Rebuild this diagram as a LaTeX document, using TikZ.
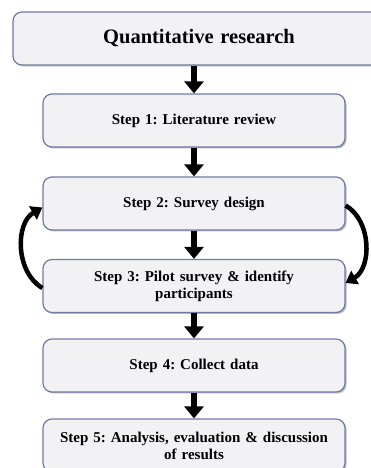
\documentclass[tikz,border=0pt]{standalone}
\usepackage{fontspec}
\setmainfont{Liberation Serif}
\usetikzlibrary{arrows.meta,positioning,shadows}
\definecolor{Edge}{HTML}{6E7BA3}
\definecolor{Pale}{HTML}{F2F2F5}
\definecolor{Shade}{HTML}{A8A8B0}
\frenchspacing

\begin{document}
\begin{tikzpicture}[
  x=1pt,y=1pt,
  stepbox/.style={rounded corners=9pt,draw=Edge,fill=Pale,line width=1.2pt,minimum width=302pt,minimum height=53pt,text width=294pt,align=center,font=\fontsize{15}{17}\selectfont\bfseries,drop shadow={shadow xshift=1.5pt,shadow yshift=-1.5pt,fill=Shade,opacity=0.8}},
  headbox/.style={stepbox,minimum width=372pt,text width=340pt,font=\fontsize{20.5}{23}\selectfont\bfseries},
  fat/.style={-{Triangle[width=19pt,length=12pt]},line width=6pt,black},
  loop/.style={-{Triangle[width=15pt,length=11pt]},line width=4.5pt,black}
]
\useasboundingbox (0,0) rectangle (371,468);
\node[headbox] (top) at (199,429.5) {Quantitative research};
\node[stepbox] (s1) at (194,347.5) {Step 1: Literature review};
\node[stepbox] (s2) at (194,264.5) {Step 2: Survey design};
\node[stepbox] (s3) at (194,182) {Step 3: Pilot survey \& identify\\participants};
\node[stepbox] (s4) at (194,102.5) {Step 4: Collect data};
\node[stepbox] (s5) at (194,22.5) {Step 5: Analysis, evaluation \& discussion\\of results};
\draw[fat] (top.south -| s1) -- (s1.north);
\draw[fat] (s1) -- (s2);
\draw[fat] (s2) -- (s3);
\draw[fat] (s3) -- (s4);
\draw[fat] (s4) -- (s5);
% feedback loops
\draw[loop] ([yshift=-2pt]s3.west) to[out=150,in=210,looseness=1.0] ([yshift=-4pt]s2.west);
\draw[loop] ([yshift=-2pt]s2.east) to[out=-30,in=30,looseness=1.0] ([yshift=3pt]s3.east);
\end{tikzpicture}
\end{document}
